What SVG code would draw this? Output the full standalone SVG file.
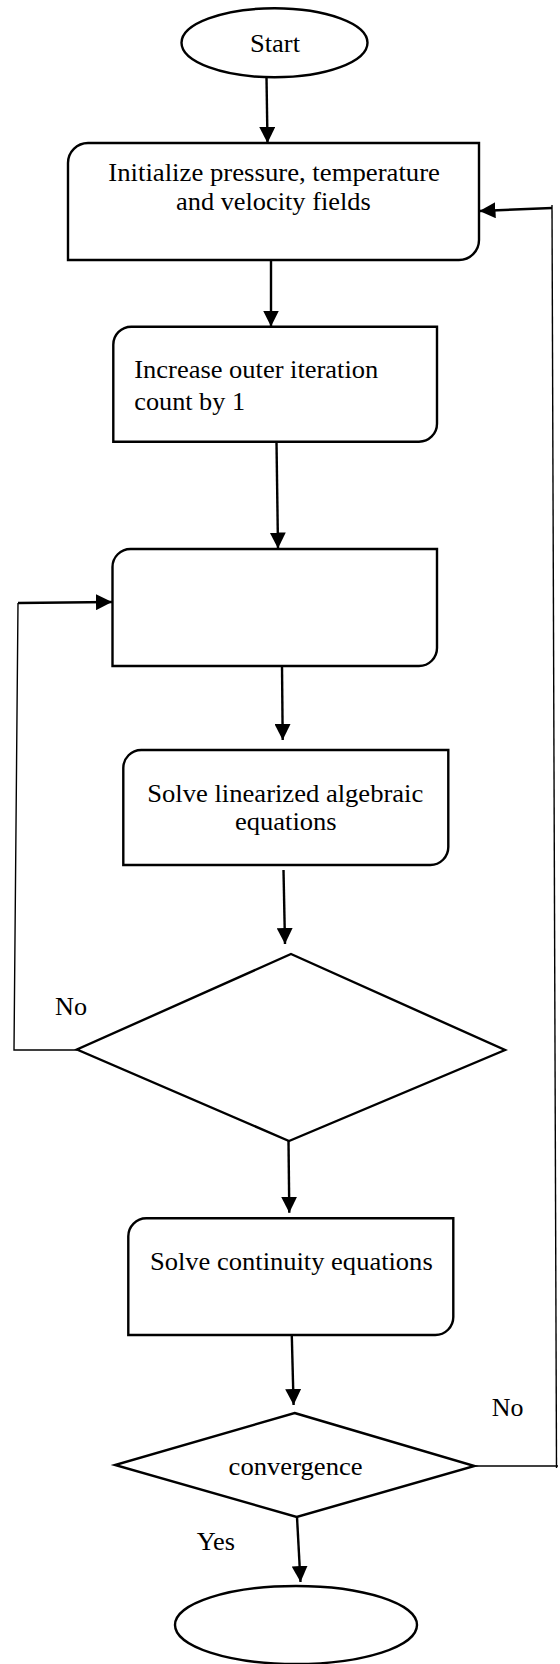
<svg xmlns="http://www.w3.org/2000/svg" width="560" height="1664" viewBox="0 0 560 1664">
<style>
.shape{fill:#fff;stroke:#000;stroke-width:2.4}
.conn{fill:none;stroke:#000;stroke-width:2.4}
.thin{fill:none;stroke:#000;stroke-width:1.4}
text{font-family:"Liberation Serif","Times New Roman",serif;font-size:26px;fill:#000}
</style>
<defs>
<marker id="ah" markerUnits="userSpaceOnUse" markerWidth="17" markerHeight="16" refX="16" refY="8" orient="auto" viewBox="0 0 17 16">
<path d="M0,0 L16,8 L0,16 Z" fill="#000"/>
</marker>
</defs>
<rect width="560" height="1664" fill="#fff"/>
<g id="connectors">
<line class="conn" x1="266.5" y1="77" x2="267.5" y2="143" marker-end="url(#ah)"/>
<line class="conn" x1="271" y1="260" x2="271" y2="326.5" marker-end="url(#ah)"/>
<line class="conn" x1="276.5" y1="442" x2="278" y2="548.5" marker-end="url(#ah)"/>
<line class="conn" x1="282" y1="666" x2="282.7" y2="740" marker-end="url(#ah)"/>
<line class="conn" x1="283.5" y1="870" x2="285" y2="944" marker-end="url(#ah)"/>
<line class="conn" x1="288.5" y1="1141" x2="289.3" y2="1212.7" marker-end="url(#ah)"/>
<line class="conn" x1="291.7" y1="1332" x2="293.6" y2="1405" marker-end="url(#ah)"/>
<line class="conn" x1="297" y1="1517" x2="300.5" y2="1582" marker-end="url(#ah)"/>
<polyline class="thin" points="77,1050 14,1050 18,603"/>
<line class="conn" x1="18" y1="603" x2="112" y2="602" marker-end="url(#ah)"/>
<polyline class="thin" points="475,1466 558,1466"/>
<line class="thin" x1="556.5" y1="1468" x2="552" y2="205"/>
<line class="conn" x1="552" y1="208" x2="479.5" y2="211" marker-end="url(#ah)"/>
<text x="55" y="1015" textLength="32" lengthAdjust="spacingAndGlyphs">No</text>
<text x="491.7" y="1416" textLength="31.7" lengthAdjust="spacingAndGlyphs">No</text>
<text x="196.7" y="1550" textLength="38.3" lengthAdjust="spacingAndGlyphs">Yes</text>
</g>
<g id="start">
<ellipse class="shape" cx="274.5" cy="42.8" rx="93" ry="34.5"/>
<text x="250" y="52" textLength="50" lengthAdjust="spacingAndGlyphs">Start</text>
</g>
<g id="init">
<path class="shape" d="M68,163 A20,20 0 0 1 88,143 H479 V240 A20,20 0 0 1 459,260 H68 Z"/>
<text x="108.3" y="180.5" textLength="331.7" lengthAdjust="spacingAndGlyphs">Initialize pressure, temperature</text>
<text x="176" y="209.5" textLength="194.7" lengthAdjust="spacingAndGlyphs">and velocity fields</text>
</g>
<g id="increase">
<path class="shape" d="M113.3,344.7 A18,18 0 0 1 131.3,326.7 H437 V423.7 A18,18 0 0 1 419,441.7 H113.3 Z"/>
<text x="134.3" y="378" textLength="244" lengthAdjust="spacingAndGlyphs">Increase outer iteration</text>
<text x="134.3" y="410" textLength="110.7" lengthAdjust="spacingAndGlyphs">count by 1</text>
</g>
<g id="blank">
<path class="shape" d="M112.5,567 A18,18 0 0 1 130.5,549 H437 V648 A18,18 0 0 1 419,666 H112.5 Z"/>
</g>
<g id="solve-linear">
<path class="shape" d="M123.3,768 A18,18 0 0 1 141.3,750 H448.3 V847 A18,18 0 0 1 430.3,865 H123.3 Z"/>
<text x="147.3" y="801.5" textLength="276" lengthAdjust="spacingAndGlyphs">Solve linearized algebraic</text>
<text x="235" y="830" textLength="101.7" lengthAdjust="spacingAndGlyphs">equations</text>
</g>
<g id="decision1">
<polygon class="shape" points="291,954 505,1050 289,1141 77,1049.5"/>
</g>
<g id="solve-continuity">
<path class="shape" d="M128.3,1236.3 A18,18 0 0 1 146.3,1218.3 H453.3 V1317 A18,18 0 0 1 435.3,1335 H128.3 Z"/>
<text x="150" y="1270" textLength="282.7" lengthAdjust="spacingAndGlyphs">Solve continuity equations</text>
</g>
<g id="convergence">
<polygon class="shape" points="294.6,1413 474.5,1466 296.7,1517 115,1465"/>
<text x="228.6" y="1475" textLength="134" lengthAdjust="spacingAndGlyphs">convergence</text>
</g>
<g id="end">
<ellipse class="shape" cx="296" cy="1625" rx="121" ry="39"/>
</g>
</svg>
